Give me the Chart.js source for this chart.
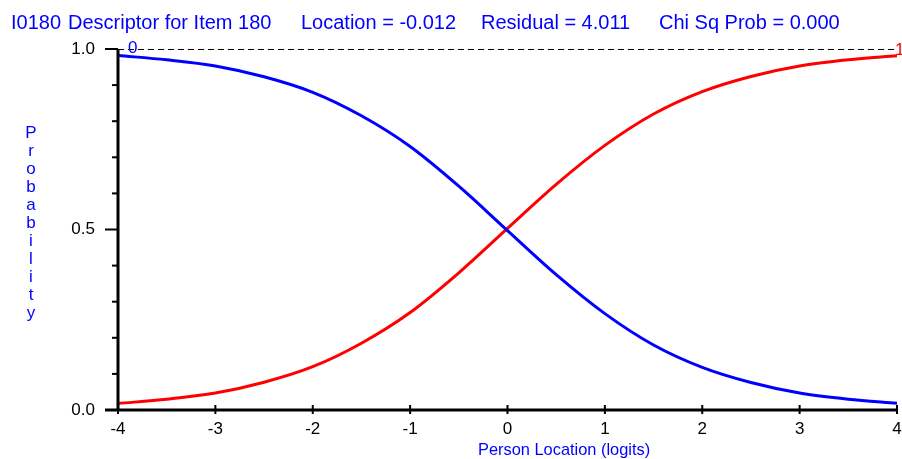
<!DOCTYPE html>
<html><head><meta charset="utf-8">
<script src="https://cdn.jsdelivr.net/npm/chart.js@4"></script>
<style>html,body{margin:0;padding:0;background:#fff;overflow:hidden}#wrap{width:902px;height:459px}</style>
</head><body><div id="wrap"><canvas id="c" width="902" height="459"></canvas></div>
<script>
// ---- data ----
const locations      = [-4, -3.5, -3, -2.5, -2, -1.5, -1, -0.5, 0, 0.5, 1, 1.5, 2, 2.5, 3, 3.5, 4];
const probCategory0  = [0.982, 0.970, 0.953, 0.923, 0.880, 0.815, 0.730, 0.620, 0.497, 0.375, 0.267, 0.180, 0.118, 0.076, 0.047, 0.030, 0.019];
const probCategory1  = [0.018, 0.030, 0.047, 0.077, 0.120, 0.185, 0.270, 0.380, 0.503, 0.625, 0.733, 0.820, 0.882, 0.924, 0.953, 0.970, 0.981];
const xTickValues    = [-4, -3, -2, -1, 0, 1, 2, 3, 4];
const yTickValues    = [0, 0.5, 1];
const yTickLabels    = ['0.0', '0.5', '1.0'];
const yMinorTicks    = [0, 0.1, 0.2, 0.3, 0.4, 0.5, 0.6, 0.7, 0.8, 0.9, 1.0];
const titleParts     = ['I0180', 'Descriptor for Item 180', 'Location = -0.012', 'Residual = 4.011', 'Chi Sq Prob = 0.000'];
const categoryLabels = ['0', '1'];
const yAxisTitle     = 'Probability';
const xAxisTitle     = 'Person Location (logits)';

const FONT = "'Liberation Sans', Arial, sans-serif";
const BLUE = '#0000ff', RED = '#ff0000';

const decor = {
  id: 'decor',
  beforeDatasetsDraw(chart) {
    const {ctx, chartArea: a, scales: {y}} = chart;
    ctx.save();
    ctx.strokeStyle = '#000'; ctx.lineWidth = 1; ctx.setLineDash([6, 4]);
    const py = Math.round(y.getPixelForValue(1)) + 0.5;
    ctx.beginPath(); ctx.moveTo(a.left, py); ctx.lineTo(a.right, py); ctx.stroke();
    ctx.restore();
  },
  afterDatasetsDraw(chart) {
    const {ctx, chartArea: a, scales: {x, y}} = chart;
    ctx.save();
    ctx.strokeStyle = '#000';
    // axis lines
    ctx.lineWidth = 3;
    ctx.beginPath(); ctx.moveTo(a.left, a.top); ctx.lineTo(a.left, a.bottom); ctx.stroke();
    ctx.beginPath(); ctx.moveTo(a.left - 13, a.bottom); ctx.lineTo(a.right + 1, a.bottom); ctx.stroke();
    // y ticks
    ctx.lineWidth = 2;
    yMinorTicks.forEach(v => {
      const py = y.getPixelForValue(v);
      const major = yTickValues.some(t => Math.abs(t - v) < 1e-9);
      ctx.beginPath(); ctx.moveTo(a.left - (major ? 13 : 6), py); ctx.lineTo(a.left, py); ctx.stroke();
    });
    // x ticks
    xTickValues.forEach(v => {
      const px = x.getPixelForValue(v);
      ctx.beginPath(); ctx.moveTo(px, a.bottom - 5); ctx.lineTo(px, a.bottom + 4); ctx.stroke();
    });
    // title
    ctx.fillStyle = BLUE; ctx.textBaseline = 'alphabetic'; ctx.textAlign = 'left';
    ctx.font = '20px ' + FONT;
    const tx = [11, 68, 301, 481, 659];
    titleParts.forEach((t, i) => ctx.fillText(t, tx[i], 29));
    // y axis title, stacked letters
    ctx.font = '17px ' + FONT; ctx.textAlign = 'center';
    [...yAxisTitle].forEach((ch, i) => ctx.fillText(ch, 31, 138 + i * 18));
    // x axis title
    ctx.font = '16.4px ' + FONT; ctx.textAlign = 'left';
    ctx.fillText(xAxisTitle, 478, 455);
    // category labels at curve ends
    ctx.font = '17px ' + FONT;
    ctx.fillStyle = BLUE; ctx.fillText(categoryLabels[0], 128, 53);
    ctx.fillStyle = RED;  ctx.fillText(categoryLabels[1], 895, 55);
    ctx.restore();
  }
};

new Chart(document.getElementById('c'), {
  type: 'line',
  data: {
    datasets: [
      { label: categoryLabels[0], data: locations.map((v, i) => ({x: v, y: probCategory0[i]})),
        borderColor: BLUE, borderWidth: 3, pointRadius: 0, fill: false, cubicInterpolationMode: 'monotone' },
      { label: categoryLabels[1], data: locations.map((v, i) => ({x: v, y: probCategory1[i]})),
        borderColor: RED, borderWidth: 3, pointRadius: 0, fill: false, cubicInterpolationMode: 'monotone' }
    ]
  },
  options: {
    responsive: false, animation: false, devicePixelRatio: 1,
    layout: { padding: { top: 49, right: 5, left: 0, bottom: 0 } },
    plugins: { legend: { display: false }, tooltip: { enabled: false }, title: { display: false } },
    scales: {
      x: {
        type: 'linear', min: -4, max: 4,
        afterBuildTicks: s => { s.ticks = xTickValues.map(v => ({value: v})); },
        afterFit: s => { s.height = 49; s.paddingLeft = 0; s.paddingRight = 0; },
        ticks: { color: '#000', font: { family: FONT, size: 17 }, padding: 9, autoSkip: false, maxRotation: 0,
                 callback: v => String(v) },
        grid: { display: false, drawTicks: false }, border: { display: false }
      },
      y: {
        type: 'linear', min: 0, max: 1,
        afterBuildTicks: s => { s.ticks = yTickValues.map(v => ({value: v})); },
        afterFit: s => { s.width = 118; s.paddingTop = 0; s.paddingBottom = 0; },
        ticks: { color: '#000', font: { family: FONT, size: 17 }, padding: 23, autoSkip: false,
                 callback: v => { const i = yTickValues.findIndex(t => Math.abs(t - v) < 1e-9); return i >= 0 ? yTickLabels[i] : ''; } },
        grid: { display: false, drawTicks: false }, border: { display: false }
      }
    }
  },
  plugins: [decor]
});
</script>
</body></html>
